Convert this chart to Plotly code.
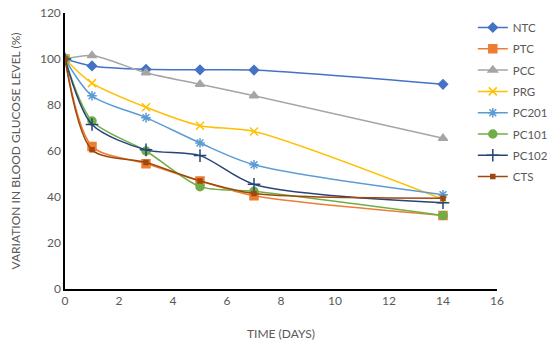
import plotly.graph_objects as go

days = [0, 1, 3, 5, 7, 14]
series_names = ["NTC", "PTC", "PCC", "PRG", "PC201", "PC101", "PC102", "CTS"]
ntc = [100, 97, 95.5, 95.3, 95.2, 89]
ptc = [100, 62, 54.5, 47, 40.5, 32]
pcc = [100, 101.5, 94, 89, 84, 65.5]
prg = [100, 89.5, 79, 71, 68.5, 39]
pc201 = [100, 84, 74.5, 63.5, 54, 41]
pc101 = [100, 73, 60, 44.5, 42.5, 32]
pc102 = [100, 71.5, 60.5, 58, 45.5, 37.5]
cts = [100, 60.5, 55, 47, 41.5, 39.5]
x_ticks = [0, 2, 4, 6, 8, 10, 12, 14, 16]
y_ticks = [0, 20, 40, 60, 80, 100, 120]

values = [ntc, ptc, pcc, prg, pc201, pc101, pc102, cts]
colors = ["#4472C4", "#ED7D31", "#A5A5A5", "#FFC000", "#5B9BD5", "#70AD47", "#264478", "#9E480E"]
symbols = ["diamond", "square", "triangle-up", "x-thin-open", "asterisk-open", "circle", "cross-thin-open", "square"]
sizes = [7, 8, 8, 8, 8, 8, 9, 4]

fig = go.Figure()
for i, (name, vals) in enumerate(zip(series_names, values)):
    fig.add_trace(go.Scatter(
        x=days, y=vals, name=name, mode="lines+markers",
        line=dict(color=colors[i], width=1.5, shape="spline", smoothing=0.8),
        marker=dict(symbol=symbols[i], size=sizes[i], color=colors[i],
                    line=dict(color=colors[i], width=1.5)),
        legendgroup=name,
    ))

axis_font = dict(family="Lato, Open Sans, sans-serif", size=12, color="#595959")
fig.update_layout(
    width=550, height=349,
    margin=dict(l=65, r=53, t=13, b=60, autoexpand=False),
    paper_bgcolor="white", plot_bgcolor="white",
    font=axis_font,
    showlegend=True,
    legend=dict(x=0.944, y=1.0, xanchor="left", yanchor="top",
                font=dict(family="Lato, Open Sans, sans-serif", size=11.5, color="#595959"),
                tracegroupgap=2.3, bgcolor="rgba(0,0,0,0)", itemwidth=30),
    xaxis=dict(range=[0, 16], tickvals=x_ticks, showgrid=False, zeroline=False,
               showline=True, linecolor="black", linewidth=1.5, ticks="",
               title=dict(text="TIME (DAYS)", font=axis_font, standoff=22)),
    yaxis=dict(range=[0, 120], tickvals=y_ticks, showgrid=False, zeroline=False,
               showline=True, linecolor="black", linewidth=1.5, ticks="",
               title=dict(text="VARIATION IN BLOOD GLUCOSE LEVEL (%)", font=axis_font, standoff=17)),
)
fig.write_html("out.html", config={"displayModeBar": False},
               post_script="document.body.style.margin='0';document.body.style.overflow='hidden';")
